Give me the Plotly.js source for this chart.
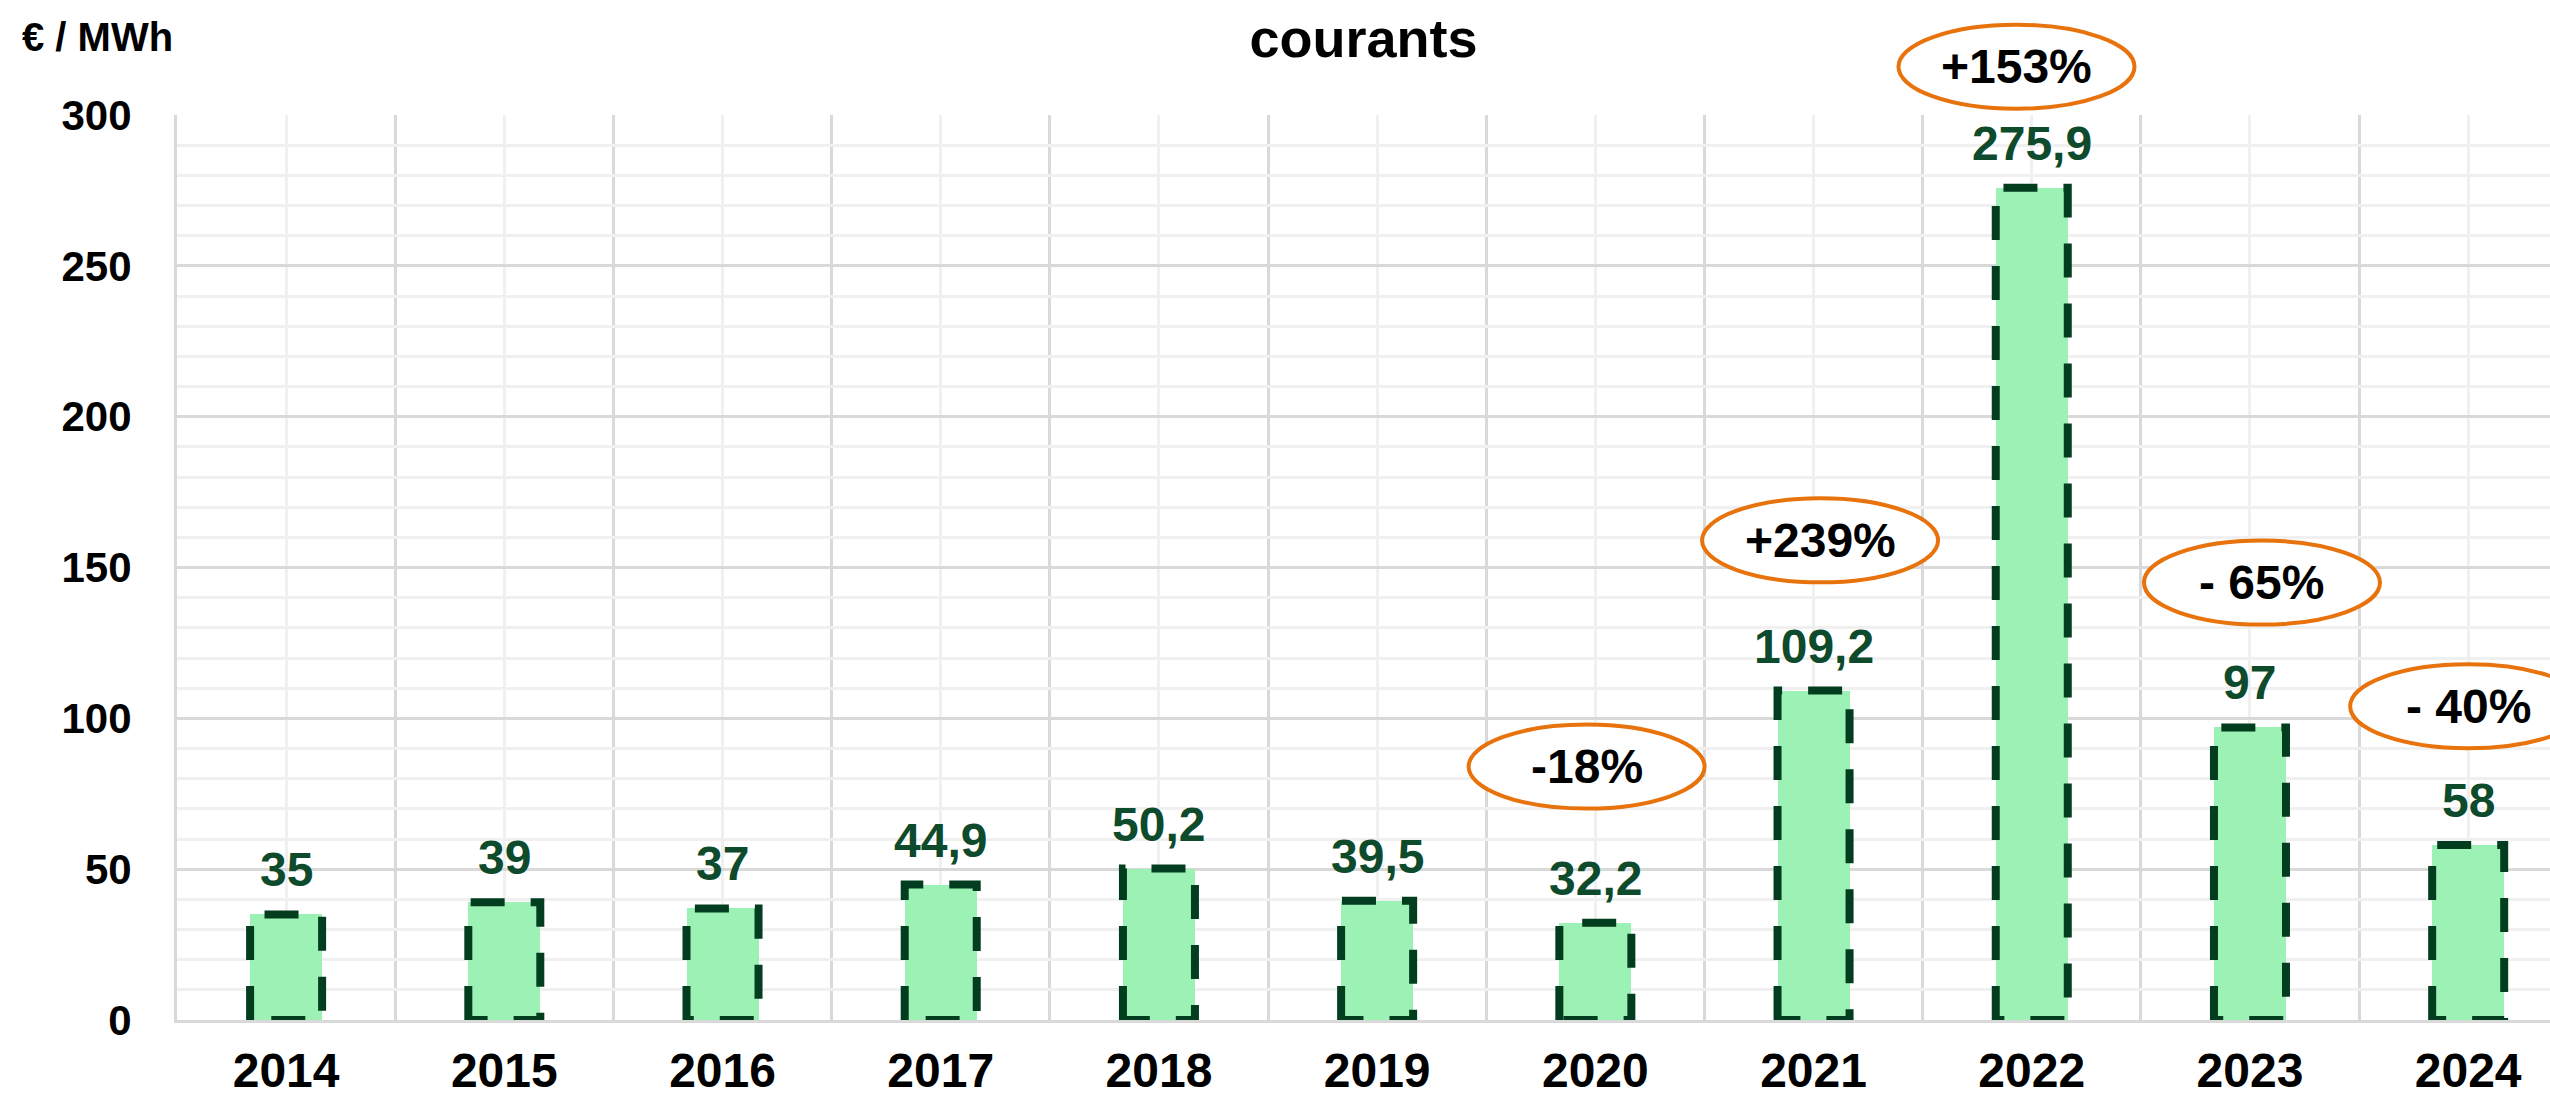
<!DOCTYPE html>
<html><head><meta charset="utf-8">
<script src="https://cdn.plot.ly/plotly-3.0.1.min.js"></script>
<style>html,body{margin:0;padding:0;background:#fff}#chart{width:2550px;height:1100px}</style>
</head><body><div id="chart"></div>
<script>
const years = ['2014','2015','2016','2017','2018','2019','2020','2021','2022','2023','2024'];
const prices = [35, 39, 37, 44.9, 50.2, 39.5, 32.2, 109.2, 275.9, 97, 58];
const priceLabels = ['35','39','37','44,9','50,2','39,5','32,2','109,2','275,9','97','58'];
const changeYears = ['2020','2021','2022','2023','2024'];
const changeLabels = ['-18%','+239%','+153%','- 65%','- 40%'];
const changeLabelY = [84, 159, 316, 145, 104];
const changeLabelDx = [-0.04, 0.03, -0.07, 0.055, 0];
const yTicks = [0, 50, 100, 150, 200, 250, 300];
const titleText = "Les prix de l'électricité sur le marché de gros en France (spot) en euros<br>courants";
const unitLabel = '€ / MWh';

const FONT = 'Liberation Sans, Arial, sans-serif';
const yMax = 300;
const barW = 0.33;
const idx = years.map((_, i) => i);
const boundaries = years.map((_, i) => i - 0.5).concat([years.length - 0.5]);

const bar = {
  type: 'bar', x: idx, y: prices, width: barW,
  marker: {color: '#9cf2b4', line: {width: 0}},
  hoverinfo: 'skip', showlegend: false
};

const shapes = [];
idx.forEach((i) => {
  const v = prices[i], l = i - barW / 2, r = i + barW / 2;
  shapes.push({
    type: 'path', xref: 'x', yref: 'y', layer: 'above',
    path: `M ${l},0 L ${l},${v} L ${r},${v} L ${r},0 Z`,
    line: {color: '#023d1f', width: 8, dash: '34px,26px'},
    fillcolor: 'rgba(0,0,0,0)'
  });
});
changeYears.forEach((yr, k) => {
  shapes.push({
    type: 'circle', xref: 'x', yref: 'paper', layer: 'above',
    xsizemode: 'pixel', ysizemode: 'pixel',
    xanchor: years.indexOf(yr) + changeLabelDx[k], yanchor: changeLabelY[k] / yMax,
    x0: -118, x1: 118, y0: -42, y1: 42,
    line: {color: '#e8720c', width: 4}, fillcolor: '#ffffff'
  });
});

const annotations = [];
idx.forEach((i) => {
  annotations.push({
    xref: 'x', yref: 'y', x: i, y: prices[i], text: priceLabels[i],
    showarrow: false, yanchor: 'bottom', yshift: 16,
    font: {family: FONT, size: 48, color: '#0e4a2c', weight: 'bold'}
  });
});
changeYears.forEach((yr, k) => {
  annotations.push({
    xref: 'x', yref: 'paper', x: years.indexOf(yr) + changeLabelDx[k], y: changeLabelY[k] / yMax,
    text: changeLabels[k], showarrow: false, xanchor: 'center', yanchor: 'middle',
    font: {family: FONT, size: 48, color: '#000000', weight: 'bold'}
  });
});
annotations.push({
  xref: 'paper', yref: 'paper', x: 0, y: 1, xanchor: 'left', yanchor: 'middle',
  xshift: -157, yshift: 78, text: unitLabel, showarrow: false,
  font: {family: FONT, size: 40, color: '#000000', weight: 'bold'}
});

const layout = {
  width: 2550, height: 1100,
  margin: {l: 177, r: 0, t: 115, b: 80},
  paper_bgcolor: '#ffffff', plot_bgcolor: '#ffffff',
  bargap: 0,
  title: {
    text: titleText, xref: 'paper', x: 0.5, xanchor: 'center',
    yref: 'container', y: 1, yanchor: 'bottom', pad: {b: 13},
    font: {family: FONT, size: 54, color: '#000000', weight: 'bold'}
  },
  xaxis: {
    type: 'linear', range: [-0.5, 10.375], fixedrange: true,
    tickmode: 'array', tickvals: idx, ticktext: years,
    ticks: '', ticklabelstandoff: 6,
    tickfont: {family: FONT, size: 48, color: '#000000', weight: 'bold'},
    showgrid: true, gridcolor: '#f0f0f0', gridwidth: 3,
    minor: {tickmode: 'array', tickvals: boundaries, showgrid: true, gridcolor: '#d9d9d9', gridwidth: 3, ticks: ''},
    showline: true, linecolor: '#d9d9d9', linewidth: 3, zeroline: false
  },
  yaxis: {
    range: [0, yMax], fixedrange: true,
    tickmode: 'array', tickvals: yTicks, ticks: '', ticklabelstandoff: 34,
    tickfont: {family: FONT, size: 42, color: '#000000', weight: 'bold'},
    showgrid: true, gridcolor: '#d9d9d9', gridwidth: 3,
    minor: {dtick: 10, showgrid: true, gridcolor: '#f0f0f0', gridwidth: 3, ticks: ''},
    showline: true, linecolor: '#d9d9d9', linewidth: 3, zeroline: false
  },
  shapes: shapes,
  annotations: annotations,
  showlegend: false
};

Plotly.newPlot('chart', [bar], layout, {displayModeBar: false, staticPlot: true});
</script>
</body></html>
